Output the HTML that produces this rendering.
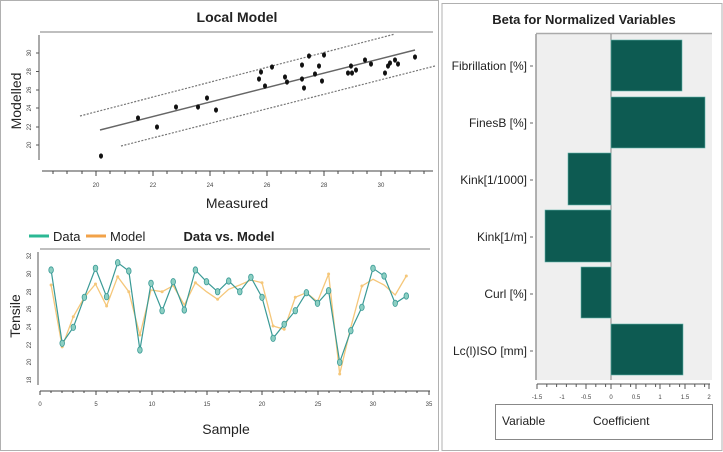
<!DOCTYPE html>
<html><head><meta charset="utf-8"><style>
html,body{margin:0;padding:0;background:#fff}
svg{display:block;font-family:"Liberation Sans",Arial,sans-serif}
</style></head><body>
<svg width="723" height="452" viewBox="0 0 723 452" xmlns="http://www.w3.org/2000/svg">
<rect x="0" y="0" width="723" height="452" fill="#fff"/>
<!-- panels -->
<rect x="0.5" y="0.5" width="438" height="450" fill="#fff" stroke="#b0b0b0"/>
<rect x="442" y="3.5" width="280" height="447" fill="#fff" stroke="#b0b0b0"/>

<!-- ===== Local Model ===== -->
<text x="237" y="22" font-size="14" font-weight="bold" text-anchor="middle" fill="#222">Local Model</text>
<line x1="40" y1="32" x2="433" y2="32" stroke="#aaa" stroke-width="1.5"/>
<line x1="39" y1="35" x2="39" y2="160" stroke="#555" stroke-width="1"/>
<g stroke="#555" stroke-width="1">
<line x1="36" y1="53" x2="39" y2="53"/><line x1="36" y1="71.5" x2="39" y2="71.5"/><line x1="36" y1="90" x2="39" y2="90"/><line x1="36" y1="108" x2="39" y2="108"/><line x1="36" y1="127" x2="39" y2="127"/><line x1="36" y1="145" x2="39" y2="145"/>
</g>
<g font-size="6" fill="#444" text-anchor="middle">
<text transform="translate(31,53) rotate(-90)">30</text>
<text transform="translate(31,71.5) rotate(-90)">28</text>
<text transform="translate(31,90) rotate(-90)">26</text>
<text transform="translate(31,108) rotate(-90)">24</text>
<text transform="translate(31,127) rotate(-90)">22</text>
<text transform="translate(31,145) rotate(-90)">20</text>
</g>
<text transform="translate(21,101) rotate(-90)" font-size="14" text-anchor="middle" fill="#222">Modelled</text>
<line x1="42" y1="171" x2="433" y2="171" stroke="#444" stroke-width="1"/>
<g stroke="#444" stroke-width="1">
<line x1="53" y1="171" x2="53" y2="174"/><line x1="67" y1="171" x2="67" y2="174"/><line x1="82" y1="171" x2="82" y2="174"/><line x1="96" y1="171" x2="96" y2="176"/><line x1="110" y1="171" x2="110" y2="174"/><line x1="125" y1="171" x2="125" y2="174"/><line x1="139" y1="171" x2="139" y2="174"/><line x1="153" y1="171" x2="153" y2="176"/><line x1="167" y1="171" x2="167" y2="174"/><line x1="182" y1="171" x2="182" y2="174"/><line x1="196" y1="171" x2="196" y2="174"/><line x1="210" y1="171" x2="210" y2="176"/><line x1="224" y1="171" x2="224" y2="174"/><line x1="239" y1="171" x2="239" y2="174"/><line x1="253" y1="171" x2="253" y2="174"/><line x1="267" y1="171" x2="267" y2="176"/><line x1="281" y1="171" x2="281" y2="174"/><line x1="296" y1="171" x2="296" y2="174"/><line x1="310" y1="171" x2="310" y2="174"/><line x1="324" y1="171" x2="324" y2="176"/><line x1="338" y1="171" x2="338" y2="174"/><line x1="353" y1="171" x2="353" y2="174"/><line x1="367" y1="171" x2="367" y2="174"/><line x1="381" y1="171" x2="381" y2="176"/><line x1="395" y1="171" x2="395" y2="174"/><line x1="410" y1="171" x2="410" y2="174"/><line x1="424" y1="171" x2="424" y2="174"/>
</g>
<g font-size="6" fill="#444" text-anchor="middle">
<text x="96" y="187">20</text><text x="153" y="187">22</text><text x="210" y="187">24</text><text x="267" y="187">26</text><text x="324" y="187">28</text><text x="381" y="187">30</text>
</g>
<text x="237" y="208" font-size="14" text-anchor="middle" fill="#222">Measured</text>
<line x1="80" y1="116" x2="395" y2="34" stroke="#777" stroke-width="1.2" stroke-dasharray="2,1.5"/>
<line x1="121" y1="146" x2="435" y2="66" stroke="#777" stroke-width="1.2" stroke-dasharray="2,1.5"/>
<line x1="100" y1="130" x2="415" y2="50" stroke="#666" stroke-width="1.5"/>
<g fill="#111">
<ellipse cx="101" cy="156" rx="2" ry="2.6"/><ellipse cx="138" cy="118" rx="2" ry="2.6"/><ellipse cx="157" cy="127" rx="2" ry="2.6"/><ellipse cx="176" cy="107" rx="2" ry="2.6"/><ellipse cx="198" cy="107" rx="2" ry="2.6"/><ellipse cx="207" cy="98" rx="2" ry="2.6"/><ellipse cx="216" cy="110" rx="2" ry="2.6"/><ellipse cx="259" cy="79" rx="2" ry="2.6"/><ellipse cx="261" cy="72" rx="2" ry="2.6"/><ellipse cx="265" cy="86" rx="2" ry="2.6"/><ellipse cx="272" cy="67" rx="2" ry="2.6"/><ellipse cx="285" cy="77" rx="2" ry="2.6"/><ellipse cx="287" cy="82" rx="2" ry="2.6"/><ellipse cx="302" cy="65" rx="2" ry="2.6"/><ellipse cx="302" cy="79" rx="2" ry="2.6"/><ellipse cx="304" cy="88" rx="2" ry="2.6"/><ellipse cx="309" cy="56" rx="2" ry="2.6"/><ellipse cx="315" cy="74" rx="2" ry="2.6"/><ellipse cx="319" cy="66" rx="2" ry="2.6"/><ellipse cx="322" cy="81" rx="2" ry="2.6"/><ellipse cx="324" cy="55" rx="2" ry="2.6"/><ellipse cx="348" cy="73" rx="2" ry="2.6"/><ellipse cx="351" cy="66" rx="2" ry="2.6"/><ellipse cx="352" cy="73" rx="2" ry="2.6"/><ellipse cx="356" cy="70" rx="2" ry="2.6"/><ellipse cx="365" cy="60" rx="2" ry="2.6"/><ellipse cx="371" cy="64" rx="2" ry="2.6"/><ellipse cx="385" cy="73" rx="2" ry="2.6"/><ellipse cx="388" cy="66" rx="2" ry="2.6"/><ellipse cx="390" cy="63" rx="2" ry="2.6"/><ellipse cx="395" cy="60" rx="2" ry="2.6"/><ellipse cx="398" cy="64" rx="2" ry="2.6"/><ellipse cx="415" cy="57" rx="2" ry="2.6"/>
</g>

<!-- ===== Data vs Model ===== -->
<line x1="29" y1="236" x2="49" y2="236" stroke="#2bb894" stroke-width="3"/>
<text x="53" y="241" font-size="13" fill="#222">Data</text>
<line x1="86" y1="236" x2="106" y2="236" stroke="#f2a248" stroke-width="3"/>
<text x="110" y="241" font-size="13" fill="#222">Model</text>
<text x="229" y="241" font-size="13" font-weight="bold" text-anchor="middle" fill="#222">Data vs. Model</text>
<line x1="40" y1="249" x2="430" y2="249" stroke="#aaa" stroke-width="1.5"/>
<line x1="38" y1="252" x2="38" y2="385" stroke="#555" stroke-width="1"/>
<g font-size="6" fill="#444" text-anchor="middle">
<text transform="translate(31,256) rotate(-90)">32</text>
<text transform="translate(31,274) rotate(-90)">30</text>
<text transform="translate(31,292) rotate(-90)">28</text>
<text transform="translate(31,309) rotate(-90)">26</text>
<text transform="translate(31,327) rotate(-90)">24</text>
<text transform="translate(31,345) rotate(-90)">22</text>
<text transform="translate(31,362) rotate(-90)">20</text>
<text transform="translate(31,380) rotate(-90)">18</text>
</g>
<text transform="translate(20,316) rotate(-90)" font-size="14" text-anchor="middle" fill="#222">Tensile</text>
<line x1="40" y1="391" x2="430" y2="391" stroke="#444" stroke-width="1"/>
<g stroke="#444" stroke-width="1">
<line x1="40" y1="391" x2="40" y2="395"/><line x1="51" y1="391" x2="51" y2="393"/><line x1="62" y1="391" x2="62" y2="393"/><line x1="73" y1="391" x2="73" y2="393"/><line x1="84" y1="391" x2="84" y2="393"/><line x1="96" y1="391" x2="96" y2="395"/><line x1="107" y1="391" x2="107" y2="393"/><line x1="118" y1="391" x2="118" y2="393"/><line x1="129" y1="391" x2="129" y2="393"/><line x1="140" y1="391" x2="140" y2="393"/><line x1="152" y1="391" x2="152" y2="395"/><line x1="163" y1="391" x2="163" y2="393"/><line x1="174" y1="391" x2="174" y2="393"/><line x1="185" y1="391" x2="185" y2="393"/><line x1="196" y1="391" x2="196" y2="393"/><line x1="207" y1="391" x2="207" y2="395"/><line x1="218" y1="391" x2="218" y2="393"/><line x1="229" y1="391" x2="229" y2="393"/><line x1="240" y1="391" x2="240" y2="393"/><line x1="251" y1="391" x2="251" y2="393"/><line x1="262" y1="391" x2="262" y2="395"/><line x1="273" y1="391" x2="273" y2="393"/><line x1="284" y1="391" x2="284" y2="393"/><line x1="295" y1="391" x2="295" y2="393"/><line x1="306" y1="391" x2="306" y2="393"/><line x1="318" y1="391" x2="318" y2="395"/><line x1="329" y1="391" x2="329" y2="393"/><line x1="340" y1="391" x2="340" y2="393"/><line x1="351" y1="391" x2="351" y2="393"/><line x1="362" y1="391" x2="362" y2="393"/><line x1="373" y1="391" x2="373" y2="395"/><line x1="384" y1="391" x2="384" y2="393"/><line x1="395" y1="391" x2="395" y2="393"/><line x1="406" y1="391" x2="406" y2="393"/><line x1="417" y1="391" x2="417" y2="393"/><line x1="429" y1="391" x2="429" y2="395"/>
</g>
<g font-size="6" fill="#444" text-anchor="middle">
<text x="40" y="406">0</text><text x="96" y="406">5</text><text x="152" y="406">10</text><text x="207" y="406">15</text><text x="262" y="406">20</text><text x="318" y="406">25</text><text x="373" y="406">30</text><text x="429" y="406">35</text>
</g>
<text x="226" y="434" font-size="14" text-anchor="middle" fill="#222">Sample</text>
<polyline fill="none" stroke="#f5c77a" stroke-width="1.3" points="51.1,285 62.2,346.7 73.3,316.7 84.4,297.3 95.5,284 106.6,306 117.7,276.7 128.8,291.7 139.9,335 151,290 162.1,291.7 173.2,285.7 184.3,305 195.4,282.7 206.5,291.7 217.6,299.3 228.7,289.3 239.8,285 250.9,280 262,282.7 273.1,326 284.2,329.3 295.3,297.3 306.4,292.7 317.5,301.7 328.6,274 339.7,374 350.8,327.3 361.9,286 373,279.3 384.1,285 395.2,295 406.3,276"/>
<g fill="#f5c77a">
<circle cx="51.1" cy="285" r="1.5"/><circle cx="62.2" cy="346.7" r="1.5"/><circle cx="73.3" cy="316.7" r="1.5"/><circle cx="95.5" cy="284" r="1.5"/><circle cx="106.6" cy="306" r="1.5"/><circle cx="117.7" cy="276.7" r="1.5"/><circle cx="128.8" cy="291.7" r="1.5"/><circle cx="139.9" cy="335" r="1.5"/><circle cx="162.1" cy="291.7" r="1.5"/><circle cx="195.4" cy="282.7" r="1.5"/><circle cx="217.6" cy="299.3" r="1.5"/><circle cx="262" cy="282.7" r="1.5"/><circle cx="273.1" cy="326" r="1.5"/><circle cx="284.2" cy="329.3" r="1.5"/><circle cx="295.3" cy="297.3" r="1.5"/><circle cx="328.6" cy="274" r="1.5"/><circle cx="339.7" cy="374" r="1.5"/><circle cx="361.9" cy="286" r="1.5"/><circle cx="406.3" cy="276" r="1.5"/>
</g>
<polyline fill="none" stroke="#3a9a96" stroke-width="1.2" points="51.1,270 62.2,343.3 73.3,327.3 84.4,297.3 95.5,268.3 106.6,296.7 117.7,262.7 128.8,271 139.9,350 151,283.3 162.1,310.7 173.2,281.7 184.3,310 195.4,270 206.5,281.7 217.6,291.7 228.7,281 239.8,291.7 250.9,277.3 262,297.3 273.1,338.3 284.2,324.3 295.3,310.7 306.4,292.7 317.5,303.3 328.6,290.7 339.7,362.3 350.8,330.7 361.9,307.3 373,268.3 384.1,276 395.2,303.3 406.3,296"/>
<g fill="#8ccfc2" stroke="#3a9a96" stroke-width="0.8">
<ellipse cx="51.1" cy="270" rx="2.3" ry="3.2"/><ellipse cx="62.2" cy="343.3" rx="2.3" ry="3.2"/><ellipse cx="73.3" cy="327.3" rx="2.3" ry="3.2"/><ellipse cx="84.4" cy="297.3" rx="2.3" ry="3.2"/><ellipse cx="95.5" cy="268.3" rx="2.3" ry="3.2"/><ellipse cx="106.6" cy="296.7" rx="2.3" ry="3.2"/><ellipse cx="117.7" cy="262.7" rx="2.3" ry="3.2"/><ellipse cx="128.8" cy="271" rx="2.3" ry="3.2"/><ellipse cx="139.9" cy="350" rx="2.3" ry="3.2"/><ellipse cx="151" cy="283.3" rx="2.3" ry="3.2"/><ellipse cx="162.1" cy="310.7" rx="2.3" ry="3.2"/><ellipse cx="173.2" cy="281.7" rx="2.3" ry="3.2"/><ellipse cx="184.3" cy="310" rx="2.3" ry="3.2"/><ellipse cx="195.4" cy="270" rx="2.3" ry="3.2"/><ellipse cx="206.5" cy="281.7" rx="2.3" ry="3.2"/><ellipse cx="217.6" cy="291.7" rx="2.3" ry="3.2"/><ellipse cx="228.7" cy="281" rx="2.3" ry="3.2"/><ellipse cx="239.8" cy="291.7" rx="2.3" ry="3.2"/><ellipse cx="250.9" cy="277.3" rx="2.3" ry="3.2"/><ellipse cx="262" cy="297.3" rx="2.3" ry="3.2"/><ellipse cx="273.1" cy="338.3" rx="2.3" ry="3.2"/><ellipse cx="284.2" cy="324.3" rx="2.3" ry="3.2"/><ellipse cx="295.3" cy="310.7" rx="2.3" ry="3.2"/><ellipse cx="306.4" cy="292.7" rx="2.3" ry="3.2"/><ellipse cx="317.5" cy="303.3" rx="2.3" ry="3.2"/><ellipse cx="328.6" cy="290.7" rx="2.3" ry="3.2"/><ellipse cx="339.7" cy="362.3" rx="2.3" ry="3.2"/><ellipse cx="350.8" cy="330.7" rx="2.3" ry="3.2"/><ellipse cx="361.9" cy="307.3" rx="2.3" ry="3.2"/><ellipse cx="373" cy="268.3" rx="2.3" ry="3.2"/><ellipse cx="384.1" cy="276" rx="2.3" ry="3.2"/><ellipse cx="395.2" cy="303.3" rx="2.3" ry="3.2"/><ellipse cx="406.3" cy="296" rx="2.3" ry="3.2"/>
</g>

<!-- ===== Beta ===== -->
<text x="584" y="24" font-size="13" font-weight="bold" text-anchor="middle" fill="#222">Beta for Normalized Variables</text>
<rect x="536" y="34" width="176" height="346" fill="#efefef"/>
<line x1="536" y1="33.5" x2="712" y2="33.5" stroke="#aaa" stroke-width="1.5"/>
<line x1="536" y1="34" x2="536" y2="380" stroke="#999" stroke-width="1.5"/>
<line x1="611" y1="34" x2="611" y2="380" stroke="#888" stroke-width="1"/>
<g fill="#0d5b52" stroke="#5fb3a8" stroke-width="0.6">
<rect x="611" y="40" width="71" height="51"/>
<rect x="611" y="97" width="94" height="51"/>
<rect x="568" y="153" width="43" height="52"/>
<rect x="545" y="210" width="66" height="52"/>
<rect x="581" y="267" width="30" height="51"/>
<rect x="611" y="324" width="72" height="51"/>
</g>
<g font-size="12" fill="#222" text-anchor="end">
<text x="527" y="70">Fibrillation [%]</text>
<text x="527" y="127">FinesB [%]</text>
<text x="527" y="184">Kink[1/1000]</text>
<text x="527" y="241">Kink[1/m]</text>
<text x="527" y="298">Curl [%]</text>
<text x="527" y="355">Lc(l)ISO [mm]</text>
</g>
<g stroke="#666"><line x1="530" y1="66" x2="533" y2="66"/><line x1="530" y1="123" x2="533" y2="123"/><line x1="530" y1="180" x2="533" y2="180"/><line x1="530" y1="237" x2="533" y2="237"/><line x1="530" y1="294" x2="533" y2="294"/><line x1="530" y1="351" x2="533" y2="351"/></g>
<line x1="537" y1="384" x2="710" y2="384" stroke="#555" stroke-width="1"/>
<g stroke="#555" stroke-width="1">
<line x1="537" y1="384" x2="537" y2="389"/><line x1="546.8" y1="384" x2="546.8" y2="387"/><line x1="556.6" y1="384" x2="556.6" y2="387"/><line x1="566.4" y1="384" x2="566.4" y2="387"/><line x1="576.2" y1="384" x2="576.2" y2="387"/><line x1="586" y1="384" x2="586" y2="389"/><line x1="595.8" y1="384" x2="595.8" y2="387"/><line x1="605.6" y1="384" x2="605.6" y2="387"/><line x1="611" y1="384" x2="611" y2="389"/><line x1="620.8" y1="384" x2="620.8" y2="387"/><line x1="630.6" y1="384" x2="630.6" y2="387"/><line x1="636" y1="384" x2="636" y2="389"/><line x1="645.8" y1="384" x2="645.8" y2="387"/><line x1="655.6" y1="384" x2="655.6" y2="387"/><line x1="660" y1="384" x2="660" y2="389"/><line x1="669.8" y1="384" x2="669.8" y2="387"/><line x1="679.6" y1="384" x2="679.6" y2="387"/><line x1="685" y1="384" x2="685" y2="389"/><line x1="694.8" y1="384" x2="694.8" y2="387"/><line x1="704.6" y1="384" x2="704.6" y2="387"/><line x1="709" y1="384" x2="709" y2="389"/>
</g>
<g font-size="6" fill="#444" text-anchor="middle">
<text x="537" y="399">-1.5</text><text x="562" y="399">-1</text><text x="586" y="399">-0.5</text><text x="611" y="399">0</text><text x="636" y="399">0.5</text><text x="660" y="399">1</text><text x="685" y="399">1.5</text><text x="709" y="399">2</text>
</g>
<rect x="495.5" y="404.5" width="217" height="35" fill="#fff" stroke="#888"/>
<text x="502" y="425" font-size="12" fill="#222">Variable</text>
<text x="593" y="425" font-size="12" fill="#222">Coefficient</text>
</svg>
</body></html>
